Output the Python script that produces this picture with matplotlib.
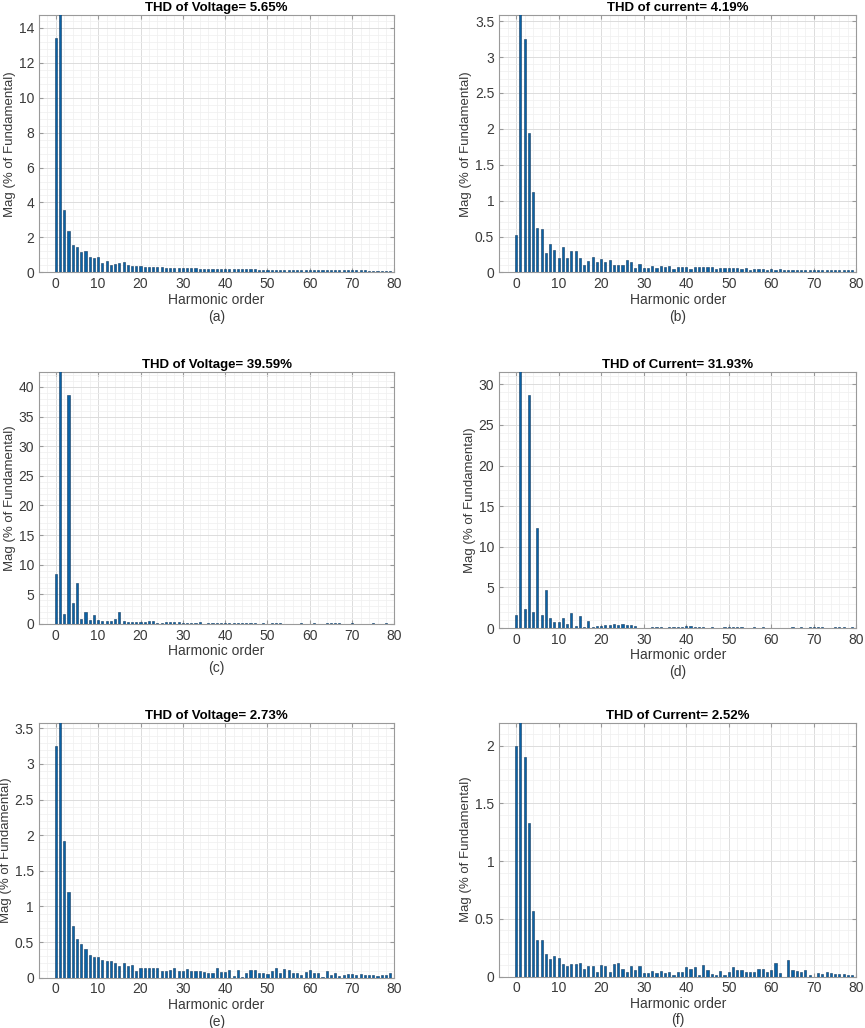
import matplotlib
matplotlib.use("Agg")
import matplotlib.pyplot as plt
import numpy as np
from matplotlib.ticker import AutoMinorLocator, MultipleLocator, FuncFormatter

plt.rcParams['font.family'] = ['Liberation Sans', 'DejaVu Sans']

harmonics = np.arange(80)

# magnitude of each harmonic, % of fundamental (fundamental = 100, clipped by the axis)
mag_a = [13.4, 100, 3.55, 2.35, 1.55, 1.47, 1.17, 1.2, 0.87, 0.82,
         0.87, 0.55, 0.68, 0.45, 0.5, 0.55, 0.57, 0.45, 0.38, 0.38,
         0.35, 0.3, 0.3, 0.33, 0.3, 0.32, 0.27, 0.25, 0.25, 0.25,
         0.26, 0.24, 0.25, 0.24, 0.21, 0.21, 0.2, 0.2, 0.2, 0.19,
         0.2, 0.19, 0.18, 0.18, 0.18, 0.17, 0.17, 0.17, 0.16, 0.16,
         0.16, 0.15, 0.15, 0.15, 0.15, 0.16, 0.13, 0.13, 0.13, 0.14,
         0.13, 0.12, 0.13, 0.12, 0.13, 0.12, 0.12, 0.12, 0.11, 0.11,
         0.11, 0.11, 0.11, 0.11, 0.1, 0.1, 0.1, 0.1, 0.1, 0.1]

mag_b = [0.52, 100, 3.25, 1.94, 1.12, 0.62, 0.6, 0.27, 0.39, 0.31,
         0.2, 0.35, 0.2, 0.3, 0.3, 0.2, 0.1, 0.16, 0.21, 0.15,
         0.18, 0.15, 0.17, 0.1, 0.11, 0.1, 0.17, 0.15, 0.06, 0.12,
         0.06, 0.06, 0.09, 0.06, 0.09, 0.07, 0.09, 0.05, 0.07, 0.07,
         0.07, 0.05, 0.08, 0.07, 0.07, 0.07, 0.07, 0.05, 0.06, 0.06,
         0.06, 0.06, 0.06, 0.05, 0.06, 0.04, 0.05, 0.05, 0.05, 0.04,
         0.05, 0.04, 0.05, 0.04, 0.04, 0.04, 0.04, 0.04, 0.04, 0.04,
         0.04, 0.04, 0.04, 0.04, 0.04, 0.03, 0.04, 0.04, 0.04, 0.04]

mag_c = [8.5, 100, 1.7, 38.6, 3.6, 7.0, 0.9, 2.1, 0.7, 1.6,
         0.7, 0.5, 0.5, 0.5, 0.9, 2.0, 0.5, 0.3, 0.4, 0.3,
         0.3, 0.3, 0.5, 0.5, 0.1, 0.1, 0.3, 0.4, 0.4, 0.3,
         0.1, 0.1, 0.1, 0.1, 0.3, 0.05, 0.2, 0.2, 0.2, 0.15,
         0.2, 0.15, 0.15, 0.1, 0.1, 0.2, 0.2, 0.1, 0.05, 0.1,
         0.05, 0.1, 0.1, 0.1, 0.05, 0.05, 0.05, 0.05, 0.1, 0.05,
         0.05, 0.1, 0.05, 0.05, 0.1, 0.1, 0.1, 0.1, 0.05, 0.05,
         0.1, 0.05, 0.05, 0.05, 0.05, 0.1, 0.05, 0.05, 0.1, 0.05]

mag_d = [1.6, 100, 2.3, 28.7, 2.0, 12.3, 1.6, 4.7, 1.2, 0.7,
         0.8, 1.3, 0.5, 1.8, 0.2, 1.5, 0.1, 0.9, 0.1, 0.3,
         0.3, 0.4, 0.4, 0.5, 0.4, 0.5, 0.4, 0.4, 0.2, 0.05,
         0.05, 0.05, 0.1, 0.1, 0.1, 0.05, 0.1, 0.1, 0.15, 0.1,
         0.2, 0.2, 0.15, 0.15, 0.15, 0.05, 0.1, 0.05, 0.05, 0.1,
         0.1, 0.1, 0.1, 0.1, 0.05, 0.05, 0.1, 0.05, 0.1, 0.02,
         0.02, 0.02, 0.02, 0.02, 0.02, 0.1, 0.02, 0.15, 0.02, 0.1,
         0.15, 0.1, 0.1, 0.02, 0.02, 0.1, 0.1, 0.1, 0.02, 0.1]

mag_e = [3.25, 100, 1.92, 1.2, 0.73, 0.54, 0.47, 0.4, 0.32, 0.29,
         0.29, 0.25, 0.24, 0.23, 0.2, 0.17, 0.2, 0.17, 0.18, 0.09,
         0.13, 0.13, 0.13, 0.13, 0.14, 0.1, 0.1, 0.11, 0.13, 0.09,
         0.09, 0.12, 0.09, 0.09, 0.09, 0.08, 0.07, 0.06, 0.13, 0.08,
         0.08, 0.11, 0.02, 0.11, 0.01, 0.06, 0.11, 0.11, 0.06, 0.06,
         0.05, 0.1, 0.14, 0.07, 0.12, 0.11, 0.06, 0.06, 0.04, 0.08,
         0.11, 0.07, 0.07, 0.01, 0.09, 0.04, 0.06, 0.02, 0.03, 0.05,
         0.05, 0.04, 0.05, 0.03, 0.03, 0.03, 0.02, 0.04, 0.04, 0.06]

mag_f = [2.0, 100, 1.9, 1.33, 0.57, 0.32, 0.32, 0.2, 0.15, 0.18,
         0.16, 0.11, 0.09, 0.11, 0.11, 0.12, 0.07, 0.09, 0.09, 0.04,
         0.1, 0.09, 0.04, 0.11, 0.12, 0.07, 0.04, 0.09, 0.06, 0.09,
         0.03, 0.03, 0.05, 0.03, 0.05, 0.03, 0.04, 0.01, 0.04, 0.04,
         0.08, 0.07, 0.08, 0.01, 0.1, 0.06, 0.02, 0.01, 0.05, 0.01,
         0.04, 0.08, 0.06, 0.06, 0.04, 0.04, 0.04, 0.07, 0.07, 0.04,
         0.06, 0.12, 0.03, 0.0, 0.14, 0.06, 0.05, 0.04, 0.06, 0.01,
         0.0, 0.03, 0.02, 0.04, 0.03, 0.02, 0.02, 0.02, 0.01, 0.01]

titles = ['THD of Voltage= 5.65%', 'THD of current= 4.19%',
          'THD of Voltage= 39.59%', 'THD of Current= 31.93%',
          'THD of Voltage= 2.73%', 'THD of Current= 2.52%']
letters = ['(a)', '(b)', '(c)', '(d)', '(e)', '(f)']
ytops = [14.7, 3.58, 42.5, 31.5, 3.58, 2.2]
ysteps = [2, 0.5, 5, 5, 0.5, 0.5]
series = [mag_a, mag_b, mag_c, mag_d, mag_e, mag_f]

# axes boxes in figure fractions [left, bottom, width, height]
boxes = [[0.045, 0.735, 0.411, 0.250], [0.577, 0.735, 0.413, 0.250],
         [0.045, 0.393, 0.411, 0.245], [0.577, 0.389, 0.413, 0.249],
         [0.045, 0.049, 0.411, 0.248], [0.577, 0.050, 0.413, 0.247]]

fig = plt.figure(figsize=(8.65, 10.28), dpi=100)
txtc = '#3a3a3a'
fmt = FuncFormatter(lambda v, p: '%g' % round(v, 6))

for i in range(6):
    ax = fig.add_axes(boxes[i])
    ax.bar(harmonics, series[i], width=0.5, color='#0a62a6',
           edgecolor='#143a5e', linewidth=0.4, zorder=3)
    ax.set_xlim(-4, 80)
    ax.set_ylim(0, ytops[i])
    ax.xaxis.set_major_locator(MultipleLocator(10))
    ax.yaxis.set_major_locator(MultipleLocator(ysteps[i]))
    ax.yaxis.set_major_formatter(fmt)
    ax.xaxis.set_minor_locator(AutoMinorLocator(5))
    ax.yaxis.set_minor_locator(AutoMinorLocator(5))
    ax.grid(which='major', color='#dcdcdc', linewidth=0.7, zorder=0)
    ax.grid(which='minor', color='#efefef', linewidth=0.5, zorder=0)
    ax.set_axisbelow(True)
    for sp in ax.spines.values():
        sp.set_color('#9a9a9a')
        sp.set_linewidth(0.8)
    ax.tick_params(which='both', direction='in', top=True, right=True,
                   colors='#9a9a9a', labelcolor=txtc, labelsize=10)
    ax.tick_params(which='major', length=3)
    ax.tick_params(which='minor', length=0)
    ax.set_title(titles[i], fontsize=9.5, fontweight='bold', pad=3)
    ax.set_xlabel('Harmonic order', fontsize=10, color=txtc, labelpad=1)
    ax.set_ylabel('Mag (% of Fundamental)', fontsize=9.5, color=txtc, labelpad=2)
    ax.text(0.5, -0.145, letters[i], transform=ax.transAxes, ha='center',
            va='top', fontsize=10, color=txtc)

fig.savefig('out.png', dpi=100)
